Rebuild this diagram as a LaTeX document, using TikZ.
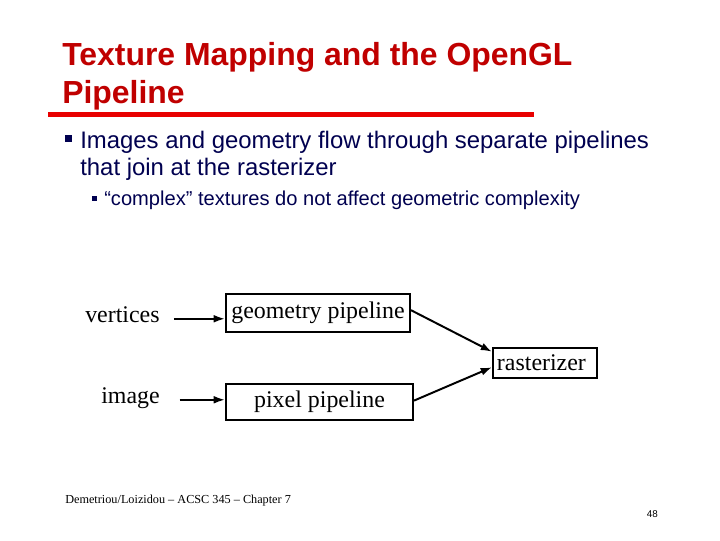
\documentclass[tikz,border=0pt]{standalone}
\usepackage{fontspec}
\setmainfont{Liberation Serif}
\newfontfamily\arialfont{Liberation Sans}
\usepackage{xcolor}
\usetikzlibrary{calc,arrows.meta}
\definecolor{titlered}{RGB}{192,0,0}
\definecolor{rulered}{RGB}{232,0,0}
\definecolor{navytext}{RGB}{0,0,80}

\begin{document}
\begin{tikzpicture}[x=0.025cm,y=-0.025cm,
	txt/.style={anchor=base west,inner sep=0pt},
	pipebox/.style={draw,line width=1.4pt,inner sep=0pt,font=\fontsize{17}{20}\selectfont},
	flow/.style={line width=1.4pt,-{Latex[length=8pt,width=5.5pt]}}]
	\useasboundingbox[fill=white] (0,0) rectangle (720,540);
	\node[txt,font=\arialfont\bfseries\fontsize{22.7}{26}\selectfont,text=titlered] (title) at (62,65) {Texture Mapping and the OpenGL};
	\node[txt,font=\arialfont\bfseries\fontsize{22.7}{26}\selectfont,text=titlered] (titlecont) at (62,103) {Pipeline};
	\draw[rulered,line width=3.5pt] (48,114.5)--(534,114.5);
	\fill[navytext] (65,135) rectangle (72,142);
	\node[txt,font=\arialfont\fontsize{17}{20}\selectfont,text=navytext] (point) at (80,148) {Images and geometry flow through separate pipelines};
	\node[txt,font=\arialfont\fontsize{17}{20}\selectfont,text=navytext] (pointcont) at (80,175) {that join at the rasterizer};
	\fill[navytext] (92,196) rectangle (97,201);
	\node[txt,font=\arialfont\fontsize{14.3}{17}\selectfont,text=navytext] (subpoint) at (104,205) {“complex” textures do not affect geometric complexity};
	\node[txt,font=\fontsize{17}{20}\selectfont] (vertices) at (85,322) {vertices};
	\node[txt,font=\fontsize{17}{20}\selectfont] (image) at (101,403) {image};
	\node[pipebox,minimum width=4.6cm,minimum height=0.95cm] (geo) at (318,313) {geometry pipeline};
	\node[pipebox,minimum width=4.675cm,minimum height=0.9cm] (pix) at (319.5,402) {pixel pipeline};
	\node[pipebox,minimum width=2.6cm,minimum height=0.75cm,text width=2.4cm,align=left] (ras) at (545,363) {rasterizer};
	\draw[flow,shorten <=10pt] (vertices.mid east)--(geo.west|-vertices.mid east);
	\draw[flow,shorten <=14pt] (image.mid east)--(pix.west|-image.mid east);
	\draw[flow] ([yshift=2pt]geo.east)--([yshift=8pt]ras.west);
	\draw[flow] ([yshift=1pt]pix.east)--([yshift=-3pt]ras.west);
	\node[txt,font=\fontsize{8.7}{11}\selectfont] (footer) at (65,503) {Demetriou/Loizidou – ACSC 345 – Chapter 7};
	\node[anchor=base east,inner sep=0pt,font=\arialfont\fontsize{7}{8}\selectfont] (page) at (658,517) {48};
\end{tikzpicture}
\end{document}
